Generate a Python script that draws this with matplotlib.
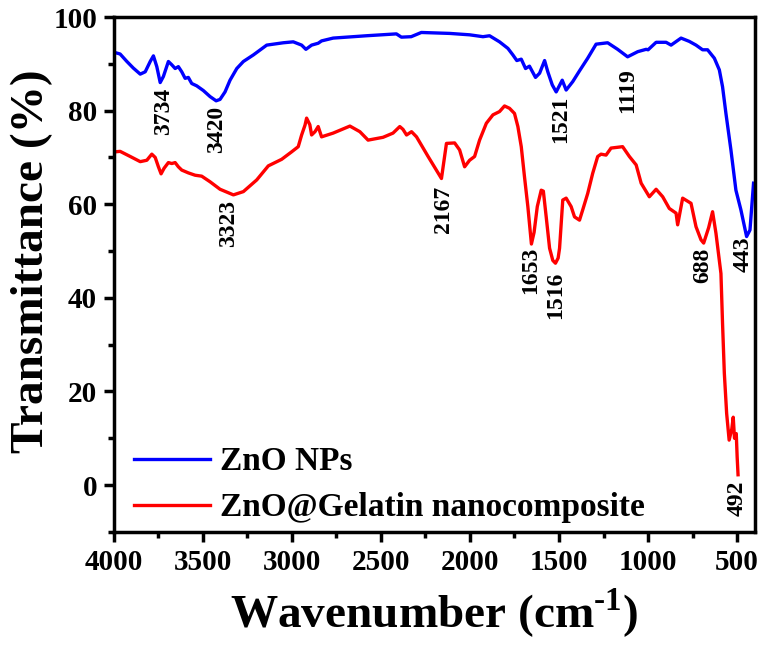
import matplotlib
matplotlib.use("Agg")
import matplotlib.pyplot as plt
from matplotlib.ticker import MultipleLocator

plt.rcParams['font.family'] = ['Liberation Serif', 'DejaVu Serif']
plt.rcParams['font.weight'] = 'bold'
plt.rcParams['mathtext.fontset'] = 'custom'
plt.rcParams['mathtext.rm'] = 'Liberation Serif:bold'
plt.rcParams['mathtext.bf'] = 'Liberation Serif:bold'

# ZnO NPs spectrum (wavenumber, transmittance)
zno_wn = [3992, 3964, 3926, 3890, 3851, 3823, 3795, 3777, 3758, 3739, 3721, 3693, 3674,
          3655, 3637, 3618, 3599, 3581, 3562, 3534, 3497, 3459, 3425, 3403, 3375, 3347,
          3309, 3272, 3216, 3141, 3048, 2992, 2945, 2921, 2889, 2852, 2833, 2768, 2581,
          2413, 2385, 2330, 2273, 2114, 2002, 1927, 1890, 1834, 1787, 1759, 1737, 1712,
          1688, 1666, 1632, 1609, 1581, 1563, 1538, 1516, 1482, 1460, 1423, 1385, 1339,
          1292, 1227, 1171, 1115, 1058, 1011, 1000, 955, 899, 871, 815, 769, 731, 694,
          666, 628, 600, 582, 563, 535, 507, 479, 447, 428, 408]
zno_t = [92.4, 92.1, 90.5, 89.1, 87.8, 88.3, 90.5, 91.7, 89.4, 86.0, 87.3, 90.5, 89.8,
         89.0, 89.4, 88.3, 86.9, 87.1, 85.8, 85.3, 84.3, 83.0, 82.1, 82.4, 84.0, 86.5,
         89.0, 90.5, 91.9, 94.0, 94.5, 94.7, 94.0, 93.1, 94.0, 94.4, 94.9, 95.5, 96.0,
         96.4, 95.7, 95.8, 96.7, 96.5, 96.2, 95.8, 96.0, 94.7, 93.3, 91.9, 90.7, 91.0,
         89.0, 89.5, 87.1, 88.0, 90.7, 88.3, 85.5, 84.0, 86.5, 84.4, 86.2, 88.5, 91.2,
         94.2, 94.5, 93.1, 91.5, 92.6, 93.1, 93.0, 94.6, 94.6, 94.0, 95.5, 94.8, 94.0, 93.0,
         93.0, 91.2, 88.7, 85.1, 79.4, 71.6, 63.0, 58.8, 53.1, 54.5, 64.5]

# ZnO@Gelatin nanocomposite spectrum
gel_wn = [3992, 3964, 3907, 3851, 3814, 3786, 3767, 3749, 3734, 3717, 3693, 3674, 3655,
          3637, 3618, 3581, 3543, 3506, 3459, 3403, 3328, 3272, 3197, 3132, 3057, 3001,
          2964, 2945, 2926, 2917, 2899, 2889, 2870, 2852, 2833, 2768, 2674, 2618, 2572,
          2488, 2432, 2394, 2376, 2356, 2328, 2300, 2235, 2160, 2132, 2086, 2058, 2030,
          2002, 1974, 1946, 1908, 1871, 1834, 1806, 1778, 1750, 1731, 1712, 1694, 1675,
          1655, 1640, 1622, 1600, 1588, 1572, 1553, 1535, 1520, 1505, 1497, 1479, 1460,
          1432, 1413, 1385, 1367, 1339, 1311, 1283, 1264, 1236, 1208, 1143, 1105, 1067,
          1039, 993, 955, 918, 881, 843, 834, 806, 759, 731, 703, 688, 660, 638, 619, 591,
          582, 572, 559, 545, 530, 522, 515, 505, 500, 495]
gel_t = [71.2, 71.3, 70.2, 69.1, 69.4, 70.7, 70.0, 68.0, 66.5, 67.7, 68.9, 68.7, 68.9,
         68.0, 67.3, 66.7, 66.2, 66.0, 64.8, 63.2, 62.0, 62.7, 65.2, 68.2, 69.6, 71.2,
         72.3, 74.8, 76.9, 78.4, 77.0, 74.8, 75.5, 76.6, 74.4, 75.2, 76.7, 75.5, 73.7,
         74.3, 75.2, 76.6, 76.0, 74.8, 75.5, 74.4, 70.2, 65.5, 73.0, 73.1, 71.6, 68.0,
         69.4, 70.2, 73.7, 77.3, 79.1, 79.8, 81.0, 80.5, 79.4, 76.6, 72.3, 65.9, 59.5,
         51.5, 54.0, 59.5, 63.0, 62.8, 57.3, 50.6, 48.0, 47.4, 48.5, 50.6, 60.9, 61.3,
         59.5, 57.3, 56.6, 58.8, 62.3, 66.6, 70.2, 70.7, 70.5, 72.0, 72.3, 70.2, 68.4,
         64.5, 61.6, 63.2, 61.6, 59.1, 58.1, 55.6, 61.3, 60.2, 55.2, 52.4, 51.7, 55.0, 58.4, 53.8, 45.2,
         34.5, 23.9, 15.3, 9.6, 12.0, 14.5, 10.0, 11.0, 6.0, 2.2]

# peak labels: text, x, y (centre)
peak_text = ['3734', '3420', '3323', '2167', '1521', '1119', '1653', '1516', '688', '443', '492']
peak_x = [3720, 3420, 3355, 2150, 1489, 1113, 1662, 1517, 693, 469, 500]
peak_y = [79.8, 76.0, 55.8, 59.0, 78.1, 84.3, 45.9, 40.6, 46.9, 49.3, -2.9]

fig = plt.figure(figsize=(7.58, 6.55), dpi=100)
ax = fig.add_axes([0.150, 0.188, 0.846, 0.786])

ax.plot(zno_wn, zno_t, color='#0000FF', lw=2.4, label='ZnO NPs')
ax.plot(gel_wn, gel_t, color='#FF0000', lw=2.4, label='ZnO@Gelatin nanocomposite')

for t, x, y in zip(peak_text, peak_x, peak_y):
    ax.text(x, y, t, rotation=90, ha='center', va='center', fontsize=17, fontweight='bold')

ax.set_xlim(4000, 400)
ax.set_ylim(-10, 100)
ax.xaxis.set_major_locator(MultipleLocator(500))
ax.xaxis.set_minor_locator(MultipleLocator(250))
ax.yaxis.set_major_locator(MultipleLocator(20))
ax.yaxis.set_minor_locator(MultipleLocator(10))
ax.tick_params(which='major', direction='out', length=7, width=2.5, labelsize=21, pad=5)
ax.tick_params(which='minor', direction='out', length=4, width=2.5)
for sp in ax.spines.values():
    sp.set_linewidth(2.5)

ax.set_xlabel(r'Wavenumber (cm$^{\text{-1}}$)', fontsize=34, fontweight='bold', labelpad=8)
ax.set_ylabel('Transmittance (%)', fontsize=34, fontweight='bold')
ax.yaxis.set_label_coords(-0.094, 0.525)

ax.legend(loc='lower left', bbox_to_anchor=(0.0, -0.022), frameon=False,
          prop={'size': 24, 'weight': 'bold'},
          handlelength=2.3, handletextpad=0.3, labelspacing=0.45, borderaxespad=0.2)

fig.savefig('out.png', dpi=100)
